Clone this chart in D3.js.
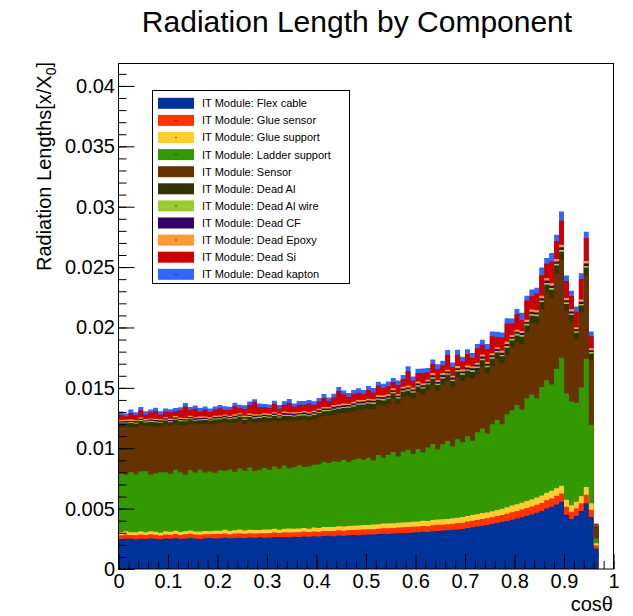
<!DOCTYPE html>
<html>
<head>
<meta charset="utf-8">
<script src="https://cdn.jsdelivr.net/npm/d3@7"></script>
<style>
  body { margin: 0; background: #fff; }
  svg { display: block; font-family: "Liberation Sans", Arial, Helvetica, sans-serif; }
</style>
</head>
<body>
<div id="chart"></div>
<script>
// bins of width 0.01 in cos(theta), from 0 to 0.97
// values are in units of 1e-5 radiation lengths
var UNIT = 1e-5;
var binWidth = 0.01;

var components = [
  "IT Module: Flex cable", "IT Module: Glue sensor", "IT Module: Glue support",
  "IT Module: Ladder support", "IT Module: Sensor", "IT Module: Dead Al",
  "IT Module: Dead Al wire", "IT Module: Dead CF", "IT Module: Dead Epoxy",
  "IT Module: Dead Si", "IT Module: Dead kapton"
];
var colors = ["#003399", "#ff3300", "#ffcc33", "#339900", "#663300", "#333300",
              "#99cc33", "#330066", "#ff9933", "#cc0000", "#3366ff"];

var flexCable = [
  248,252,250,246,251,249,253,250,247,252, 251,254,250,253,255,252,249,254,256,253,
  255,258,254,257,259,256,260,258,262,259, 261,264,262,266,263,267,265,269,268,271,
  270,273,275,272,277,276,279,281,280,284, 286,285,289,291,290,294,296,299,298,302,
  305,308,307,312,315,318,320,324,327,331, 340,345,352,358,365,372,380,390,398,408,
  418,428,440,452,465,480,500,515,535,555, 450,415,440,480,545,430,170
];
var glueSensor = [
  32,34,31,33,35,32,34,33,31,34, 33,35,32,34,36,33,35,34,32,36,
  35,37,34,36,38,35,37,36,34,38, 37,39,36,38,40,37,39,41,38,40,
  39,41,40,42,44,41,43,42,45,44, 43,45,44,46,48,45,47,46,49,48,
  47,49,48,50,52,49,51,50,53,52, 53,55,54,56,55,57,58,57,60,62,
  63,64,66,65,68,67,70,69,72,71, 66,60,62,65,70,60,25
];
var glueSupport = [
  24,26,23,25,27,24,26,25,23,26, 25,27,24,26,28,25,27,26,24,28,
  27,29,26,28,30,27,29,28,26,30, 29,31,28,30,32,29,31,30,28,32,
  31,33,32,34,33,35,34,36,35,37, 36,38,37,39,38,40,39,41,40,42,
  41,43,42,44,43,45,44,46,45,47, 46,48,47,49,48,50,51,52,54,55,
  56,57,58,59,60,61,62,63,62,64, 58,52,55,58,63,55,18
];
var ladderSupport = [
  490,470,500,480,495,505,470,485,500,490, 480,505,495,470,500,490,510,485,495,480,
  500,490,510,485,505,495,515,490,500,510, 495,515,505,520,500,510,525,505,515,520,
  525,540,530,545,535,550,530,545,555,540, 555,530,575,545,570,590,550,585,600,560,
  600,565,610,630,580,620,645,595,650,620, 660,615,680,700,655,720,745,700,770,790,
  820,770,850,870,820,900,930,880,990,1060, 880,860,820,900,1060,650,40
];
var sensor = [
  380,395,370,390,385,375,400,390,380,395, 395,380,390,410,385,395,380,400,390,405,
  390,400,385,405,395,390,380,400,395,385, 395,380,390,375,395,385,370,390,380,375,
  390,380,395,385,400,390,410,400,405,415, 410,425,415,430,420,440,435,450,445,460,
  470,480,475,490,485,495,500,490,510,505, 490,515,480,510,495,485,505,505,495,520,
  520,545,545,590,620,640,730,720,790,810, 680,660,525,620,690,540,90
];
var deadAl = [
  32,30,34,31,33,29,35,32,30,33, 31,34,32,30,35,33,31,34,32,36,
  33,35,32,36,34,33,37,35,34,36, 35,37,34,38,36,35,39,37,36,38,
  37,39,36,40,38,41,39,42,40,43, 41,44,42,45,43,46,44,47,45,48,
  47,49,46,50,48,51,49,52,50,53, 52,54,51,55,53,56,54,57,55,58,
  57,59,58,61,60,63,62,65,64,67, 60,56,54,58,66,50,10
];
var deadAlWire = [
  8,7,9,8,8,7,9,8,7,8, 8,9,8,7,9,8,8,9,7,8,
  9,8,8,9,8,9,8,9,9,8, 9,9,8,10,9,9,10,9,9,10,
  9,10,9,10,10,9,10,10,11,10, 10,11,10,11,10,11,11,10,11,12,
  11,12,11,12,11,12,12,11,12,13, 12,13,12,13,12,13,13,12,14,13,
  13,14,13,14,14,13,15,14,15,16, 14,13,13,14,15,12,2
];
var deadCF = [
  10,11,9,12,10,9,11,10,12,10, 11,10,12,9,11,12,10,11,9,12,
  11,12,10,13,11,12,10,13,12,11, 12,13,11,14,12,13,11,14,13,12,
  13,14,12,15,13,14,12,15,14,13, 14,15,13,16,14,15,13,16,15,14,
  15,16,14,17,15,16,14,17,16,15, 16,17,15,18,16,17,15,18,17,16,
  17,18,16,19,17,18,19,20,19,21, 18,17,16,18,20,15,3
];
var deadEpoxy = [
  9,10,11,9,10,12,9,11,10,9, 10,12,9,11,10,9,12,10,11,10,
  12,10,11,12,10,13,11,12,10,12, 13,11,12,14,12,13,11,13,14,12,
  14,12,13,15,13,14,12,14,15,13, 15,13,14,16,14,15,13,15,16,14,
  16,14,15,17,15,16,14,16,17,15, 17,15,16,18,16,17,15,17,18,16,
  18,16,17,19,18,20,19,21,20,22, 19,17,16,18,21,15,3
];
var deadSi = [
  45,30,55,40,60,35,50,65,38,48, 55,40,62,95,50,70,42,58,45,52,
  60,38,48,66,44,55,72,100,58,50, 47,68,42,56,75,45,60,52,70,48,
  58,74,50,62,110,78,55,66,60,52, 72,56,80,60,68,52,76,64,120,58,
  70,86,62,75,90,66,125,72,94,68, 95,70,120,80,105,140,85,110,150,95,
  130,90,160,110,140,170,120,180,150,200, 140,110,130,170,190,100,10
];
var deadKapton = [
  26,22,28,24,27,30,23,26,29,25, 24,28,26,30,23,27,29,25,28,26,
  27,30,25,29,26,31,28,24,30,27, 29,26,31,28,33,27,30,32,28,31,
  30,33,29,32,35,30,34,31,36,32, 33,36,31,35,38,33,37,34,39,35,
  36,39,34,38,41,36,40,37,42,38, 39,42,37,41,44,39,43,40,45,41,
  42,60,40,55,47,65,48,70,50,75, 46,44,42,47,52,40,6
];

var series = [flexCable, glueSensor, glueSupport, ladderSupport, sensor, deadAl,
              deadAlWire, deadCF, deadEpoxy, deadSi, deadKapton];

var xTicks = d3.range(0, 1.0001, 0.1);
var yTicks = d3.range(0, 0.04001, 0.005);

var width = 633, height = 616;
var frameLeft = 118.5, frameRight = 613.5, frameTop = 63, frameBottom = 569;

var svg = d3.select("#chart").append("svg")
  .attr("width", width)
  .attr("height", height);

var x = d3.scaleLinear().domain([0, 1]).range([frameLeft, frameRight]);
var y = d3.scaleLinear().domain([0, 0.0419]).range([frameBottom, frameTop]);

// one row per bin
var rows = flexCable.map(function (v, i) {
  var r = { lo: i * binWidth };
  components.forEach(function (c, k) { r[c] = series[k][i] * UNIT; });
  return r;
});

var stacked = d3.stack().keys(components)(rows);

var area = d3.area()
  .x(function (p) { return x(p.x); })
  .y0(y(0))
  .y1(function (p) { return y(p.v); });

// paint cumulative areas from the top layer down so there are no seams
var layers = svg.append("g");
stacked.slice().reverse().forEach(function (layer) {
  var pts = [];
  layer.forEach(function (d) {
    pts.push({ x: d.data.lo, v: d[1] });
    pts.push({ x: d.data.lo + binWidth, v: d[1] });
  });
  layers.append("path")
    .attr("d", area(pts))
    .attr("fill", colors[layer.index]);
});

// axes, ticks inside the frame
var xMinor = d3.axisBottom(x).tickValues(d3.range(0, 1.0001, 0.02))
  .tickSize(-8).tickSizeOuter(0).tickFormat("");
var xMajor = d3.axisBottom(x).tickValues(xTicks)
  .tickSize(-15).tickSizeOuter(0).tickPadding(5)
  .tickFormat(function (d) { return String(+d.toFixed(1)); });
var yMinor = d3.axisLeft(y).tickValues(d3.range(0, 0.0415, 0.001))
  .tickSize(-8).tickSizeOuter(0).tickFormat("");
var yMajor = d3.axisLeft(y).tickValues(yTicks)
  .tickSize(-16).tickSizeOuter(0).tickPadding(3.5)
  .tickFormat(function (d) { return String(+d.toFixed(3)); });

[xMinor, xMajor].forEach(function (ax) {
  svg.append("g").attr("transform", "translate(0," + frameBottom + ")").call(ax);
});
[yMinor, yMajor].forEach(function (ax) {
  svg.append("g").attr("transform", "translate(" + frameLeft + ",0)").call(ax);
});
svg.selectAll(".domain").remove();
svg.selectAll(".tick line").attr("stroke", "#000");
svg.selectAll(".tick text")
  .attr("fill", "#000")
  .style("font-size", "20px")
  .style("font-family", "'Liberation Sans', Arial, sans-serif");

// frame
svg.append("rect")
  .attr("x", frameLeft)
  .attr("y", frameTop + 0.5)
  .attr("width", frameRight - frameLeft)
  .attr("height", frameBottom - frameTop - 0.5)
  .attr("fill", "none")
  .attr("stroke", "#000")
  .attr("stroke-width", 1);

// title
svg.append("text")
  .attr("x", 357)
  .attr("y", 31.5)
  .attr("text-anchor", "middle")
  .style("font-size", "30px")
  .text("Radiation Length by Component");

// axis titles
var yTitle = svg.append("text")
  .attr("transform", "translate(51,62) rotate(-90)")
  .attr("text-anchor", "end")
  .style("font-size", "20px");
yTitle.append("tspan").text("Radiation Lengths[x/X");
yTitle.append("tspan").attr("dy", 5).style("font-size", "14px").text("0");
yTitle.append("tspan").attr("dy", -5).text("]");

svg.append("text")
  .attr("x", 613)
  .attr("y", 611)
  .attr("text-anchor", "end")
  .style("font-size", "20px")
  .text("cosθ");

// legend
var legend = svg.append("g");
legend.append("rect")
  .attr("x", 152.5)
  .attr("y", 90.5)
  .attr("width", 197)
  .attr("height", 193)
  .attr("fill", "#fff")
  .attr("stroke", "#000");

var entry = legend.selectAll("g.entry")
  .data(components)
  .enter()
  .append("g")
  .attr("class", "entry")
  .attr("transform", function (d, i) { return "translate(0," + (103.3 + i * 17.1) + ")"; });

entry.append("rect")
  .attr("x", 158)
  .attr("y", -5.5)
  .attr("width", 36)
  .attr("height", 11)
  .attr("fill", function (d, i) { return colors[i]; });
entry.append("rect")
  .attr("x", 175.5)
  .attr("y", -0.5)
  .attr("width", 1)
  .attr("height", 1)
  .attr("fill", "#000");
entry.append("text")
  .attr("x", 202)
  .attr("dy", "0.36em")
  .style("font-size", "11px")
  .text(function (d) { return d; });
</script>
</body>
</html>
